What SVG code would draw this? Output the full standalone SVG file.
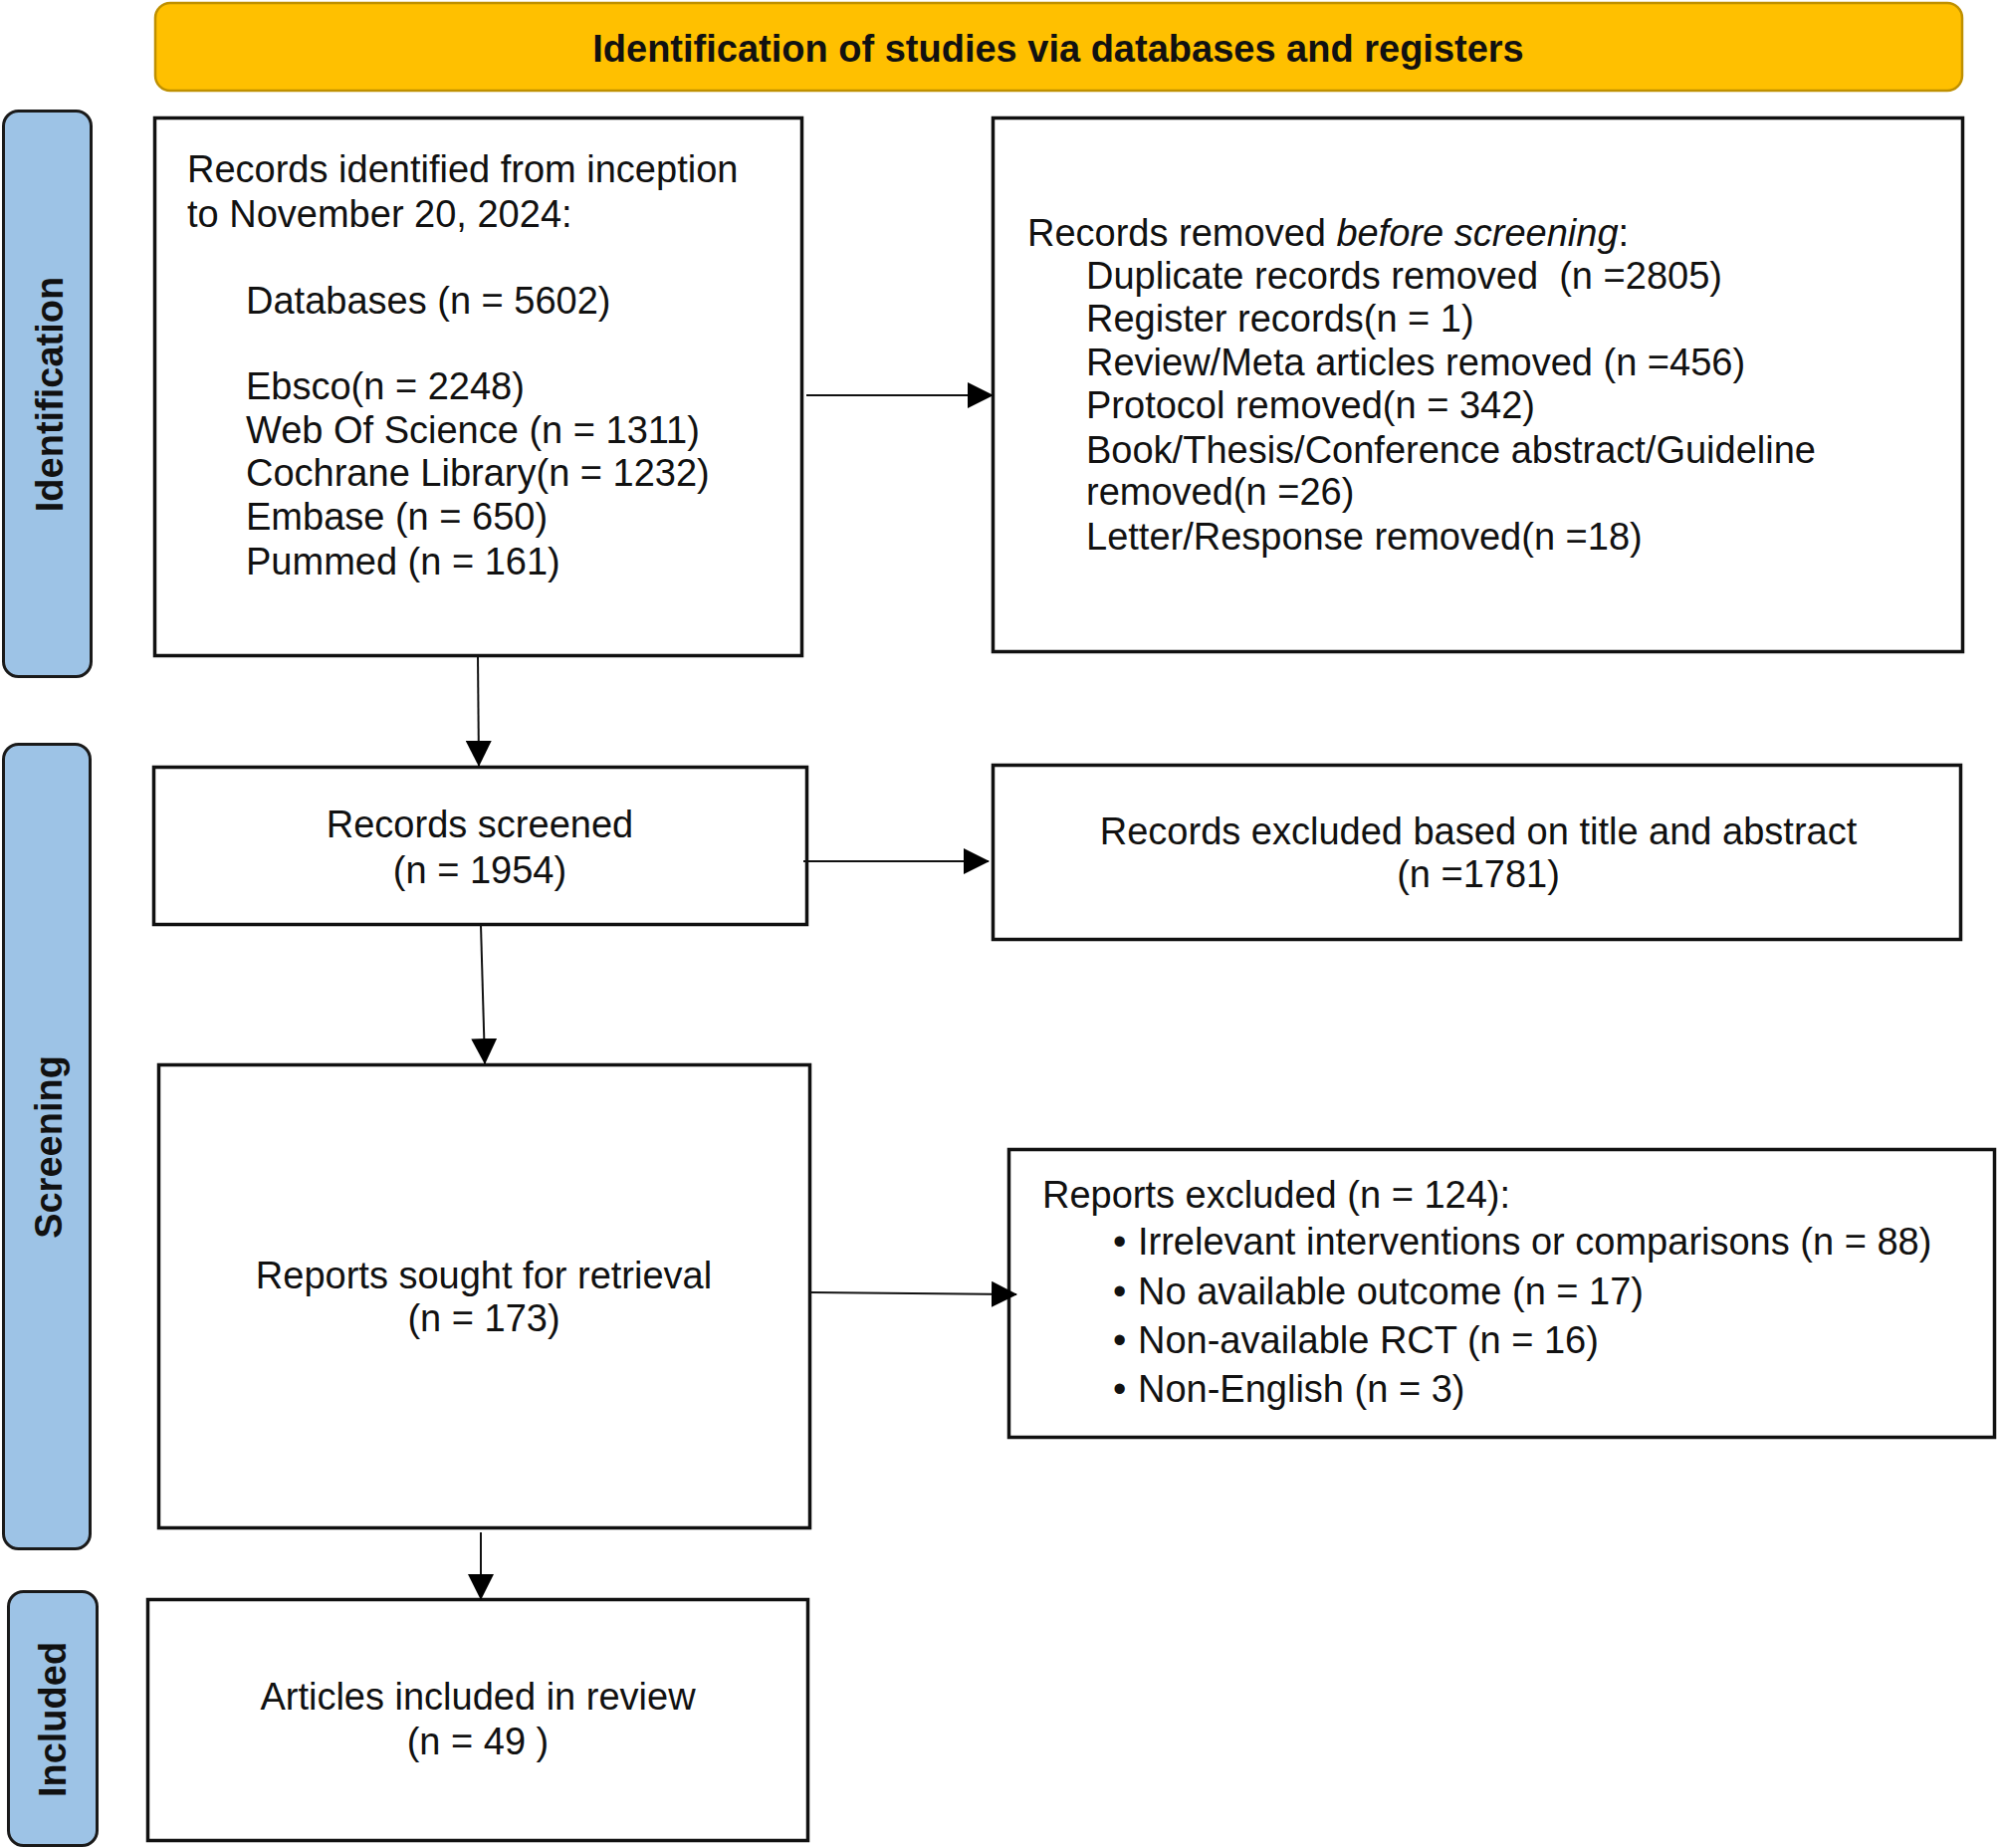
<svg xmlns="http://www.w3.org/2000/svg" width="2008" height="1856" viewBox="0 0 2008 1856">
<style>
text{font-family:"Liberation Sans",Arial,sans-serif;fill:#111;white-space:pre}
.t{font-size:38px}
.c{text-anchor:middle}
.h{font-size:38px;font-weight:bold;text-anchor:middle}
.lane{fill:#9DC3E6;stroke:#1a1a1a;stroke-width:3}
.lt{font-size:38px;font-weight:bold;text-anchor:middle}
.box{fill:#fff;stroke:#111;stroke-width:3.5}
.con{stroke:#111;stroke-width:2;fill:none;marker-end:url(#ah)}
</style>
<defs>
<marker id="ah" markerUnits="userSpaceOnUse" markerWidth="26" markerHeight="26" refX="25" refY="13" orient="auto">
<path d="M0,0 L26,13 L0,26 z" fill="#000"/>
</marker>
</defs>
<rect width="2008" height="1856" fill="#fff"/>
<g id="header">
<rect x="156" y="3" width="1815" height="88" rx="15" fill="#FFC000" stroke="#BF9000" stroke-width="2.5"/>
<text class="h" x="1063" y="62">Identification of studies via databases and registers</text>
</g>
<g id="lane-identification">
<rect class="lane" x="3.5" y="111.5" width="88" height="568" rx="15"/>
<text class="lt" transform="translate(63,396) rotate(-90)">Identification</text>
</g>
<g id="lane-screening">
<rect class="lane" x="3.5" y="747.5" width="87" height="808" rx="15"/>
<text class="lt" transform="translate(62,1152) rotate(-90)">Screening</text>
</g>
<g id="lane-included">
<rect class="lane" x="8.5" y="1598.5" width="89" height="255" rx="15"/>
<text class="lt" transform="translate(66,1727) rotate(-90)">Included</text>
</g>
<g id="records-identified">
<rect class="box" x="155.5" y="118.5" width="650" height="540"/>
<text class="t" x="188" y="183">Records identified from inception</text>
<text class="t" x="188" y="228">to November 20, 2024:</text>
<text class="t" x="247" y="315">Databases (n = 5602)</text>
<text class="t" x="247" y="401">Ebsco(n = 2248)</text>
<text class="t" x="247" y="445">Web Of Science (n = 1311)</text>
<text class="t" x="247" y="488">Cochrane Library(n = 1232)</text>
<text class="t" x="247" y="532">Embase (n = 650)</text>
<text class="t" x="247" y="577">Pummed (n = 161)</text>
</g>
<g id="records-removed">
<rect class="box" x="997.5" y="118.5" width="974" height="536"/>
<text class="t" x="1032" y="247">Records removed <tspan font-style="italic">before screening</tspan>:</text>
<text class="t" x="1091" y="290">Duplicate records removed  (n =2805)</text>
<text class="t" x="1091" y="333">Register records(n = 1)</text>
<text class="t" x="1091" y="377">Review/Meta articles removed (n =456)</text>
<text class="t" x="1091" y="420">Protocol removed(n = 342)</text>
<text class="t" x="1091" y="465">Book/Thesis/Conference abstract/Guideline</text>
<text class="t" x="1091" y="507">removed(n =26)</text>
<text class="t" x="1091" y="552">Letter/Response removed(n =18)</text>
</g>
<g id="records-screened">
<rect class="box" x="154.5" y="770.5" width="656" height="158"/>
<text class="t c" x="482" y="841">Records screened</text>
<text class="t c" x="482" y="887">(n = 1954)</text>
</g>
<g id="records-excluded">
<rect class="box" x="997.5" y="768.5" width="972" height="175"/>
<text class="t c" x="1485" y="848">Records excluded based on title and abstract</text>
<text class="t c" x="1485" y="891">(n =1781)</text>
</g>
<g id="reports-sought">
<rect class="box" x="159.5" y="1069.5" width="654" height="465"/>
<text class="t c" x="486" y="1294">Reports sought for retrieval</text>
<text class="t c" x="486" y="1337">(n = 173)</text>
</g>
<g id="reports-excluded">
<rect class="box" x="1013.5" y="1154.5" width="990" height="289"/>
<text class="t" x="1047" y="1213">Reports excluded (n = 124):</text>
<text class="t" x="1118" y="1260" font-size="30">•</text>
<text class="t" x="1143" y="1260">Irrelevant interventions or comparisons (n = 88)</text>
<text class="t" x="1118" y="1310" font-size="30">•</text>
<text class="t" x="1143" y="1310">No available outcome (n = 17)</text>
<text class="t" x="1118" y="1359" font-size="30">•</text>
<text class="t" x="1143" y="1359">Non-available RCT (n = 16)</text>
<text class="t" x="1118" y="1408" font-size="30">•</text>
<text class="t" x="1143" y="1408">Non-English (n = 3)</text>
</g>
<g id="included">
<rect class="box" x="148.5" y="1606.5" width="663" height="242"/>
<text class="t c" x="480" y="1717">Articles included in review</text>
<text class="t c" x="480" y="1762">(n = 49 )</text>
</g>
<g id="connectors">
<line class="con" x1="810" y1="397" x2="997" y2="397"/>
<line class="con" x1="480" y1="659" x2="481" y2="769"/>
<line class="con" x1="807" y1="865" x2="993" y2="865"/>
<line class="con" x1="483" y1="929" x2="487" y2="1068"/>
<line class="con" x1="814" y1="1298" x2="1021" y2="1300"/>
<line class="con" x1="483" y1="1539" x2="483" y2="1606"/>
</g>
</svg>
